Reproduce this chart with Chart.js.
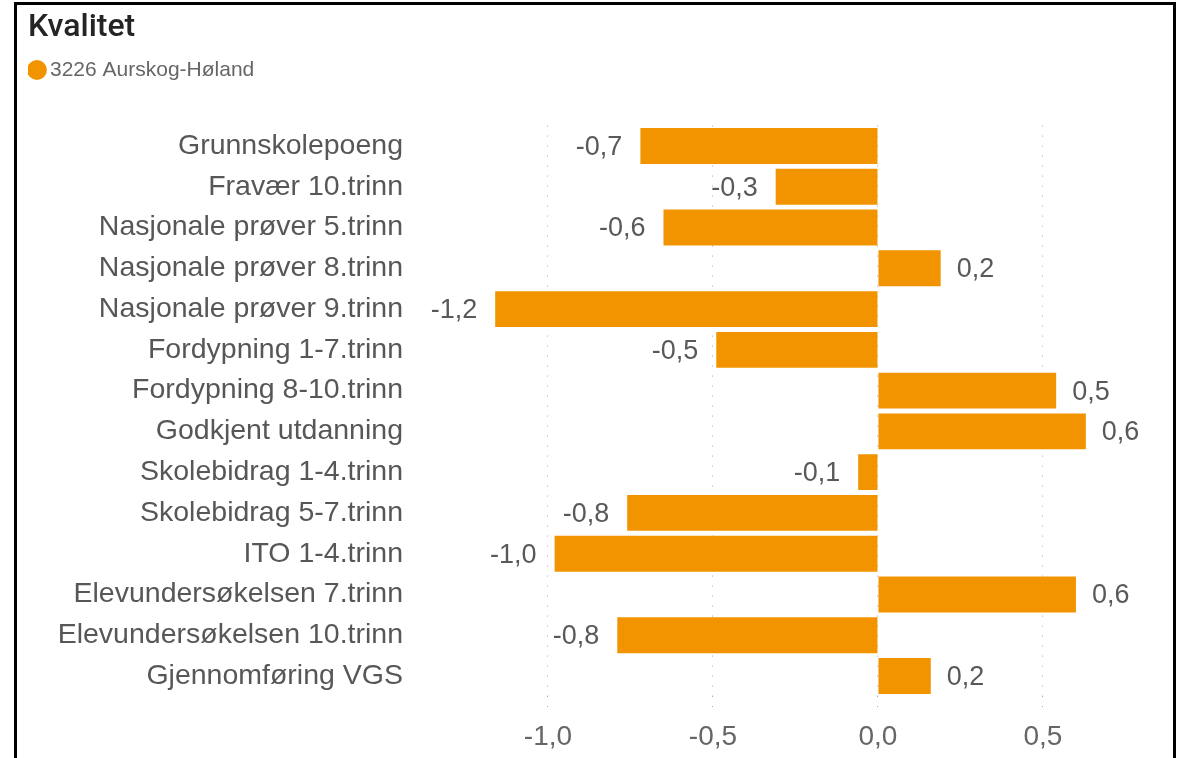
<!DOCTYPE html>
<html lang="no">
<head>
<meta charset="utf-8">
<title>Kvalitet</title>
<script src="https://cdn.jsdelivr.net/npm/chart.js@4/dist/chart.umd.min.js"></script>
<style>
  html, body { margin: 0; padding: 0; background: #fff; }
  #wrap { position: relative; width: 1184px; height: 758px; overflow: hidden; }
  #frame {
    position: absolute; left: 14px; top: 2px; width: 1156px; height: 800px;
    border: 3px solid #000; border-bottom: none; pointer-events: none;
  }
  canvas { position: absolute; left: 0; top: 0; }
</style>
</head>
<body>
<div id="wrap">
  <canvas id="kvalitetChart" width="1184" height="758"></canvas>
  <div id="frame"></div>
</div>
<script>
// data
const seriesName = "3226 Aurskog-Høland";
const categories = [
  "Grunnskolepoeng",
  "Fravær 10.trinn",
  "Nasjonale prøver 5.trinn",
  "Nasjonale prøver 8.trinn",
  "Nasjonale prøver 9.trinn",
  "Fordypning 1-7.trinn",
  "Fordypning 8-10.trinn",
  "Godkjent utdanning",
  "Skolebidrag 1-4.trinn",
  "Skolebidrag 5-7.trinn",
  "ITO 1-4.trinn",
  "Elevundersøkelsen 7.trinn",
  "Elevundersøkelsen 10.trinn",
  "Gjennomføring VGS"
];
const values = [-0.72, -0.31, -0.65, 0.19, -1.16, -0.49, 0.54, 0.63, -0.06, -0.76, -0.98, 0.6, -0.79, 0.16];
const xTicks = [-1.0, -0.5, 0.0, 0.5];

const orange = "#F29400";
const fmt = (v) => (Math.round(v * 10) / 10).toFixed(1).replace(".", ",");

// value labels at bar ends
const valueLabels = {
  id: "valueLabels",
  afterDatasetsDraw(chart) {
    const ctx = chart.ctx;
    const meta = chart.getDatasetMeta(0);
    ctx.save();
    ctx.font = '27px "Liberation Sans", Arial, sans-serif';
    ctx.fillStyle = "#595959";
    ctx.textBaseline = "middle";
    meta.data.forEach((bar, i) => {
      const v = values[i];
      if (v < 0) {
        ctx.textAlign = "right";
        ctx.fillText(fmt(v), bar.x - 18, bar.y + 1.5);
      } else {
        ctx.textAlign = "left";
        ctx.fillText(fmt(v), bar.x + 16, bar.y + 1.5);
      }
    });
    ctx.restore();
  }
};

const ctx = document.getElementById("kvalitetChart").getContext("2d");
new Chart(ctx, {
  type: "bar",
  data: {
    labels: categories,
    datasets: [{
      label: seriesName,
      data: values,
      backgroundColor: orange,
      borderWidth: 0,
      categoryPercentage: 1,
      barPercentage: 0.88
    }]
  },
  options: {
    indexAxis: "y",
    responsive: false,
    animation: false,
    layout: { padding: { left: 28, right: 14, top: 0, bottom: 0 } },
    scales: {
      x: {
        min: -1.4,
        max: 0.885,
        afterBuildTicks: (scale) => { scale.ticks = xTicks.map((v) => ({ value: v })); },
        afterFit: (scale) => { scale.height = 61.6; },
        grid: { color: "#a9a9a9", lineWidth: 1, tickLength: 15, tickBorderDash: [1, 9] },
        border: { display: false, dash: [1, 9] },
        ticks: {
          padding: 9,
          color: "#666",
          font: { family: '"Liberation Sans", Arial, sans-serif', size: 28 },
          callback: (v) => fmt(v)
        }
      },
      y: {
        afterFit: (scale) => { scale.width = 388; },
        grid: { display: false, drawTicks: false },
        border: { display: false },
        ticks: {
          padding: 13,
          color: "#575757",
          font: { family: '"Liberation Sans", Arial, sans-serif', size: 28.5 }
        }
      }
    },
    plugins: {
      tooltip: { enabled: false },
      title: {
        display: true,
        text: "Kvalitet",
        align: "start",
        color: "#252423",
        font: { family: "Roboto, sans-serif", size: 32, weight: "500" },
        padding: { top: 9, bottom: 5.6 }
      },
      legend: {
        display: true,
        align: "start",
        labels: {
          usePointStyle: true,
          pointStyle: "circle",
          boxWidth: 5,
          boxHeight: 14,
          padding: 6.5,
          color: "#666",
          font: { family: '"Liberation Sans", Arial, sans-serif', size: 21 }
        }
      },
      // empty spacer between legend and plot area
      subtitle: {
        display: true,
        text: "",
        weight: 0,
        font: { size: 10, lineHeight: 1 },
        padding: { top: 25.1, bottom: 0 }
      }
    }
  },
  plugins: [valueLabels]
});
</script>
</body>
</html>
